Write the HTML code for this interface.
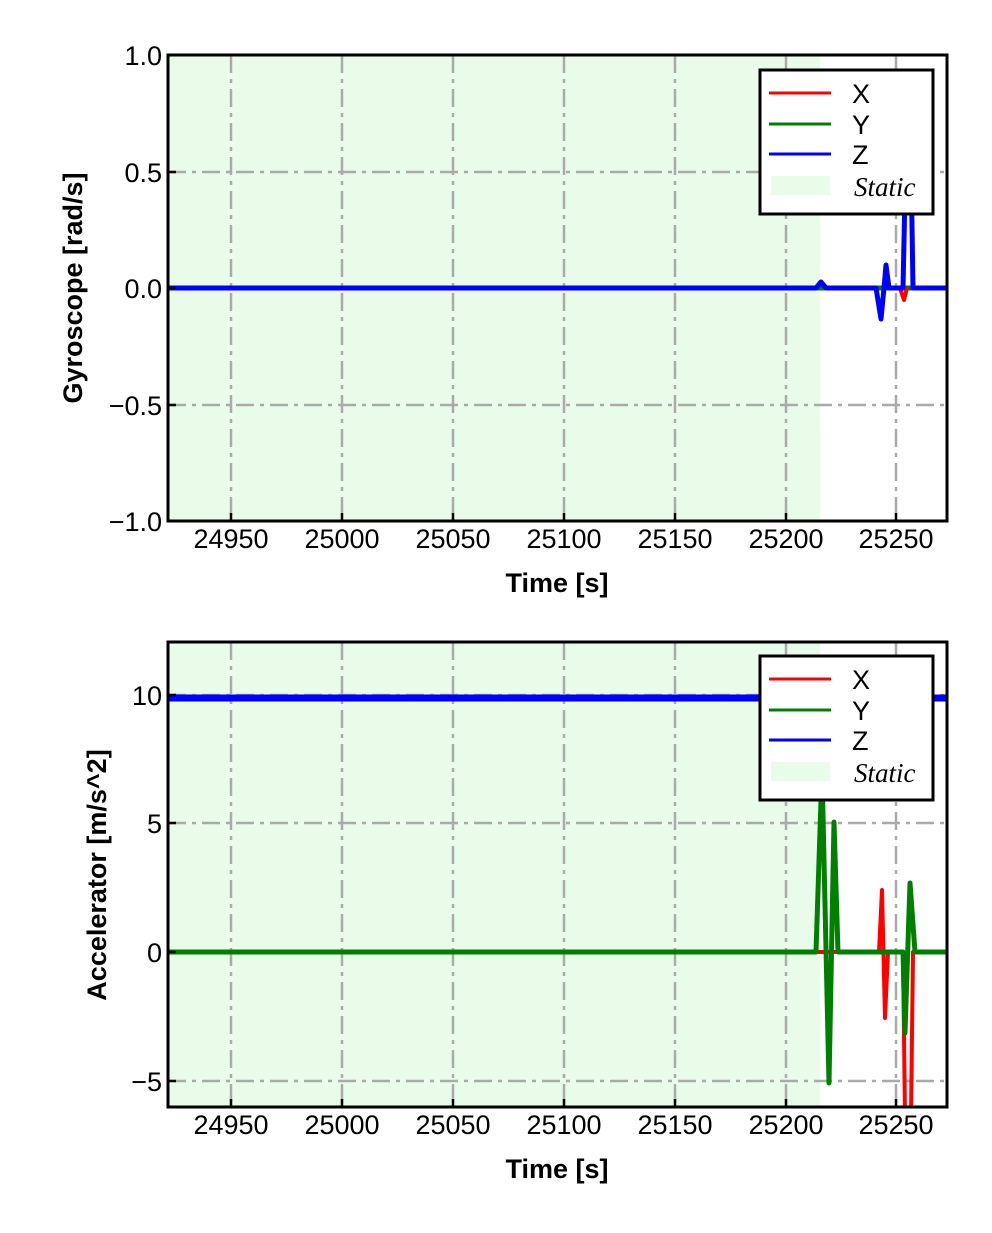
<!DOCTYPE html>
<html><head><meta charset="utf-8"><style>
body{margin:0;background:#fff}
text{font-family:"Liberation Sans",sans-serif;fill:#000}
.t{font-size:27px}
.l{font-size:27px;font-weight:bold}
.g{stroke:#aaa;stroke-width:2.5;stroke-dasharray:18,6,4,6;fill:none}
</style></head><body>
<svg width="992" height="1228" xmlns="http://www.w3.org/2000/svg">
<defs>
<clipPath id="c1"><rect x="168" y="55" width="779" height="466"/></clipPath>
<clipPath id="c2"><rect x="168" y="642" width="779" height="465"/></clipPath>
</defs>
<!-- TOP -->
<rect x="168" y="55" width="652" height="466" fill="#e9fce9"/>
<g class="g">
<path d="M231 55V521M342 55V521M453 55V521M564 55V521M675 55V521M786 55V521M896 55V521"/>
<path d="M168 172H947M168 288H947M168 405H947"/>
</g>
<g clip-path="url(#c1)" fill="none" stroke-linejoin="round">
<path d="M168 288H947" stroke="#008000" stroke-width="5"/>
<path d="M900 288L904 300L907 288" stroke="#f00" stroke-width="4"/>
<path d="M168 288H816L821 282L826 288H876L881 319L884 288L886 265L889 288H903L907 100L910 100L913 288H947" stroke="#00f" stroke-width="5"/>
</g>
<rect x="168" y="55" width="779" height="466" fill="none" stroke="#000" stroke-width="3"/>
<g stroke="#000" stroke-width="2.5">
<path d="M231 521v-8M342 521v-8M453 521v-8M564 521v-8M675 521v-8M786 521v-8M896 521v-8"/>
<path d="M168 55h8M168 172h8M168 288h8M168 405h8M168 521h8"/>
</g>
<g class="t" text-anchor="end">
<text x="162" y="65">1.0</text><text x="162" y="182">0.5</text><text x="162" y="298">0.0</text><text x="162" y="415">−0.5</text><text x="162" y="531">−1.0</text>
</g>
<g class="t" text-anchor="middle">
<text x="231" y="548">24950</text><text x="342" y="548">25000</text><text x="453" y="548">25050</text><text x="564" y="548">25100</text><text x="675" y="548">25150</text><text x="786" y="548">25200</text><text x="896" y="548">25250</text>
</g>
<text class="l" x="557" y="592" text-anchor="middle">Time [s]</text>
<text class="l" transform="translate(82,288) rotate(-90)" text-anchor="middle">Gyroscope [rad/s]</text>
<g>
<rect x="760" y="70" width="173" height="144" fill="#fff" stroke="#000" stroke-width="3"/>
<path d="M769 93h62" stroke="#f00" stroke-width="3"/>
<path d="M769 124h62" stroke="#008000" stroke-width="3"/>
<path d="M769 154h62" stroke="#00f" stroke-width="3"/>
<rect x="771" y="176" width="59" height="19" fill="#e9fce9"/>
<text class="t" x="852" y="103">X</text><text class="t" x="852" y="134">Y</text><text class="t" x="852" y="164">Z</text>
<text x="854" y="196" style="font-family:'Liberation Serif',serif;font-style:italic;font-size:27px">Static</text>
</g>
<!-- BOTTOM -->
<rect x="168" y="642" width="652" height="465" fill="#e9fce9"/>
<g class="g">
<path d="M231 642V1107M342 642V1107M453 642V1107M564 642V1107M675 642V1107M786 642V1107M896 642V1107"/>
<path d="M168 695H947M168 823H947M168 952H947M168 1081H947"/>
</g>
<g clip-path="url(#c2)" fill="none" stroke-linejoin="round">
<path d="M168 698H947" stroke="#00f" stroke-width="7"/>
<path d="M168 952H879L882 890L885 1018L888 952H903L906 1200L910 1200L913 952H947" stroke="#f00" stroke-width="4"/>
<path d="M168 952H816L822 770L829 1083L834 822L838 952H903L905 1033L910 883L915 952H947" stroke="#008000" stroke-width="5"/>
</g>
<rect x="168" y="642" width="779" height="465" fill="none" stroke="#000" stroke-width="3"/>
<g stroke="#000" stroke-width="2.5">
<path d="M231 1107v-8M342 1107v-8M453 1107v-8M564 1107v-8M675 1107v-8M786 1107v-8M896 1107v-8"/>
<path d="M168 695h8M168 823h8M168 952h8M168 1081h8"/>
</g>
<g class="t" text-anchor="end">
<text x="162" y="705">10</text><text x="162" y="833">5</text><text x="162" y="962">0</text><text x="162" y="1091">−5</text>
</g>
<g class="t" text-anchor="middle">
<text x="231" y="1134">24950</text><text x="342" y="1134">25000</text><text x="453" y="1134">25050</text><text x="564" y="1134">25100</text><text x="675" y="1134">25150</text><text x="786" y="1134">25200</text><text x="896" y="1134">25250</text>
</g>
<text class="l" x="557" y="1178" text-anchor="middle">Time [s]</text>
<text class="l" transform="translate(106,875) rotate(-90)" text-anchor="middle">Accelerator [m/s^2]</text>
<g>
<rect x="760" y="656" width="173" height="144" fill="#fff" stroke="#000" stroke-width="3"/>
<path d="M769 679h62" stroke="#f00" stroke-width="3"/>
<path d="M769 710h62" stroke="#008000" stroke-width="3"/>
<path d="M769 740h62" stroke="#00f" stroke-width="3"/>
<rect x="771" y="762" width="59" height="19" fill="#e9fce9"/>
<text class="t" x="852" y="689">X</text><text class="t" x="852" y="720">Y</text><text class="t" x="852" y="750">Z</text>
<text x="854" y="782" style="font-family:'Liberation Serif',serif;font-style:italic;font-size:27px">Static</text>
</g>
</svg>
</body></html>
